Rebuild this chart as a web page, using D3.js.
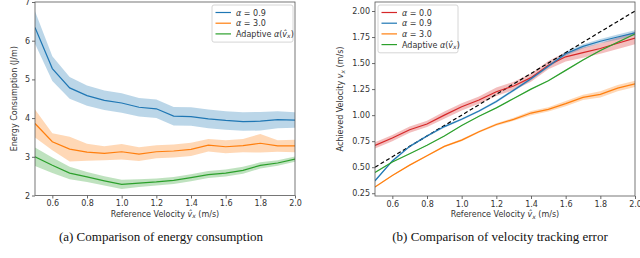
<!DOCTYPE html>
<html>
<head>
<meta charset="utf-8">
<script src="https://cdnjs.cloudflare.com/ajax/libs/d3/7.8.5/d3.min.js"></script>
<style>
  body { margin: 0; background: #fff; }
  svg { display: block; }
  .tick text { font-family: "DejaVu Sans", sans-serif; font-size: 8px; fill: #333; }
  .lbl { font-family: "DejaVu Sans", sans-serif; font-size: 8px; fill: #333; }
  .cap { font-family: "Liberation Serif", serif; font-size: 13px; fill: #111; }
</style>
</head>
<body>
<svg id="fig" width="640" height="258"></svg>
<script>
'use strict';

// Datos compartidos
var velocidad = [0.5, 0.6, 0.7, 0.8, 0.9, 1.0, 1.1, 1.2, 1.3, 1.4, 1.5, 1.6, 1.7, 1.8, 1.9, 2.0];

// (a) energía
var energia09 = [6.34, 5.28, 4.78, 4.58, 4.46, 4.39, 4.28, 4.24, 4.05, 4.04, 3.98, 3.94, 3.91, 3.92, 3.96, 3.95];
var energia09Err = [0.42, 0.32, 0.28, 0.26, 0.25, 0.25, 0.24, 0.24, 0.24, 0.24, 0.24, 0.24, 0.24, 0.24, 0.22, 0.2];
var energia30 = [3.86, 3.39, 3.2, 3.12, 3.09, 3.13, 3.07, 3.13, 3.15, 3.19, 3.3, 3.26, 3.29, 3.35, 3.28, 3.28];
var energia30Err = [0.36, 0.22, 0.32, 0.22, 0.18, 0.2, 0.18, 0.17, 0.17, 0.17, 0.16, 0.17, 0.17, 0.24, 0.15, 0.16];
var energiaAd = [3.0, 2.78, 2.58, 2.48, 2.38, 2.29, 2.32, 2.35, 2.39, 2.46, 2.54, 2.58, 2.65, 2.78, 2.84, 2.94];
var energiaAdErr = [0.24, 0.2, 0.16, 0.13, 0.12, 0.12, 0.1, 0.09, 0.09, 0.09, 0.09, 0.09, 0.09, 0.08, 0.07, 0.07];

// (b) velocidad alcanzada
var vel00 = [0.71, 0.78, 0.86, 0.915, 1.0, 1.08, 1.145, 1.225, 1.28, 1.36, 1.48, 1.56, 1.6, 1.64, 1.69, 1.74];
var vel00Err = [0.03, 0.03, 0.03, 0.03, 0.035, 0.035, 0.035, 0.04, 0.04, 0.04, 0.04, 0.045, 0.05, 0.05, 0.055, 0.06];
var vel09 = [0.37, 0.56, 0.7, 0.8, 0.89, 0.96, 1.04, 1.13, 1.24, 1.35, 1.47, 1.59, 1.66, 1.71, 1.75, 1.79];
var vel09Err = [0.01, 0.01, 0.01, 0.01, 0.01, 0.01, 0.01, 0.012, 0.012, 0.015, 0.015, 0.02, 0.02, 0.02, 0.025, 0.025];
var vel30 = [0.31, 0.42, 0.52, 0.61, 0.7, 0.76, 0.84, 0.91, 0.96, 1.02, 1.055, 1.11, 1.17, 1.2, 1.26, 1.3];
var vel30Err = [0.005, 0.005, 0.005, 0.008, 0.008, 0.01, 0.01, 0.012, 0.015, 0.02, 0.02, 0.025, 0.025, 0.03, 0.03, 0.03];
var velAd = [0.45, 0.55, 0.63, 0.71, 0.8, 0.9, 0.99, 1.07, 1.16, 1.25, 1.33, 1.43, 1.53, 1.62, 1.7, 1.78];
var velAdErr = [0.004, 0.004, 0.004, 0.004, 0.004, 0.004, 0.004, 0.004, 0.005, 0.005, 0.005, 0.005, 0.006, 0.006, 0.006, 0.006];

var xTicks = [0.6, 0.8, 1.0, 1.2, 1.4, 1.6, 1.8, 2.0];
var yTicksA = [2, 3, 4, 5, 6, 7];
var yTicksB = [0.25, 0.5, 0.75, 1.0, 1.25, 1.5, 1.75, 2.0];

var azul = '#1f77b4', naranja = '#ff7f0e', verde = '#2ca02c', rojo = '#d62728';

var svg = d3.select('#fig');

// Dibuja un panel completo
function panel(opts) {
  var g = svg.append('g');
  var x = d3.scaleLinear().domain([0.5, 2.0]).range([opts.left, opts.right]);
  var y = d3.scaleLinear().domain(opts.yDom).range([opts.bottom, opts.top]);

  var area = d3.area()
    .x(function(d, i) { return x(velocidad[i]); })
    .y0(function(d) { return y(d[0] - d[1]); })
    .y1(function(d) { return y(d[0] + d[1]); });
  var linea = d3.line()
    .x(function(d, i) { return x(velocidad[i]); })
    .y(function(d) { return y(d); });

  var clip = 'clip-' + opts.id;
  g.append('clipPath').attr('id', clip).append('rect')
    .attr('x', opts.left).attr('y', opts.top)
    .attr('width', opts.right - opts.left).attr('height', opts.bottom - opts.top);
  var datos = g.append('g').attr('clip-path', 'url(#' + clip + ')');

  opts.series.forEach(function(s) {
    var pares = s.v.map(function(v, i) { return [v, s.e[i]]; });
    datos.append('path').attr('d', area(pares))
      .attr('fill', s.color).attr('fill-opacity', 0.3).attr('stroke', 'none');
  });
  if (opts.ideal) {
    datos.append('path').attr('d', linea(velocidad))
      .attr('fill', 'none').attr('stroke', '#000').attr('stroke-width', 1.2)
      .attr('stroke-dasharray', '4,2.5');
  }
  opts.series.forEach(function(s) {
    datos.append('path').attr('d', linea(s.v))
      .attr('fill', 'none').attr('stroke', s.color).attr('stroke-width', 1.2);
  });

  // Ejes
  var ax = g.append('g').attr('transform', 'translate(0,' + opts.bottom + ')')
    .call(d3.axisBottom(x).tickValues(xTicks).tickFormat(d3.format('.1f')).tickSize(3).tickPadding(2));
  var ay = g.append('g').attr('transform', 'translate(' + opts.left + ',0)')
    .call(d3.axisLeft(y).tickValues(opts.yTicks).tickFormat(d3.format(opts.yFmt)).tickSize(3).tickPadding(2));
  [ax, ay].forEach(function(a) {
    a.select('.domain').remove();
    a.selectAll('.tick line').attr('stroke', '#444').attr('stroke-width', 0.8);
  });
  g.append('rect').attr('x', opts.left).attr('y', opts.top)
    .attr('width', opts.right - opts.left).attr('height', opts.bottom - opts.top)
    .attr('fill', 'none').attr('stroke', '#555').attr('stroke-width', 0.8);

  // Etiquetas
  var cx = (opts.left + opts.right) / 2;
  var xl = g.append('text').attr('class', 'lbl').attr('x', cx).attr('y', opts.bottom + 21)
    .attr('text-anchor', 'middle');
  xl.append('tspan').text('Reference Velocity ');
  xl.append('tspan').attr('font-style', 'italic').text('v\u0302');
  xl.append('tspan').attr('font-style', 'italic').attr('font-size', '6px').attr('dy', 1.5).text('x');
  xl.append('tspan').attr('dy', -1.5).text(' (m/s)');

  var cy = (opts.top + opts.bottom) / 2;
  var yl = g.append('text').attr('class', 'lbl')
    .attr('transform', 'translate(' + opts.yLabelX + ',' + cy + ') rotate(-90)')
    .attr('text-anchor', 'middle');
  opts.yLabel(yl);

  g.append('text').attr('class', 'cap').attr('x', opts.capX).attr('y', 241)
    .attr('text-anchor', 'middle').text(opts.caption);

  // Leyenda
  var L = opts.legend;
  var leg = g.append('g');
  leg.append('rect').attr('x', L.x).attr('y', L.y).attr('width', L.w)
    .attr('height', opts.series.length * 10.7 + 5).attr('rx', 2)
    .attr('fill', '#fff').attr('fill-opacity', 0.85).attr('stroke', '#ccc').attr('stroke-width', 0.8);
  opts.series.forEach(function(s, i) {
    var yy = L.y + 7.5 + i * 10.7;
    leg.append('line').attr('x1', L.x + 3.5).attr('x2', L.x + 19)
      .attr('y1', yy).attr('y2', yy).attr('stroke', s.color).attr('stroke-width', 1.2);
    var t = leg.append('text').attr('class', 'lbl').attr('x', L.x + 24).attr('y', yy + 3);
    etiquetaSerie(t, s.alpha);
  });
}

function etiquetaSerie(t, alpha) {
  if (alpha === null) {
    t.append('tspan').text('Adaptive ');
    t.append('tspan').attr('font-style', 'italic').text('\u03b1');
    t.append('tspan').text('(');
    t.append('tspan').attr('font-style', 'italic').text('v\u0302');
    t.append('tspan').attr('font-style', 'italic').attr('font-size', '6px').attr('dy', 1.5).text('x');
    t.append('tspan').attr('dy', -1.5).text(')');
  } else {
    t.append('tspan').attr('font-style', 'italic').text('\u03b1');
    t.append('tspan').text(' = ' + alpha);
  }
}

panel({
  id: 'a', left: 35, right: 295, top: 2, bottom: 195.5,
  yDom: [2, 7], yTicks: yTicksA, yFmt: 'd', yLabelX: 17, capX: 161,
  caption: '(a) Comparison of energy consumption',
  yLabel: function(t) { t.text('Energy Consumption (J/m)'); },
  legend: { x: 212, y: 5, w: 81 },
  series: [
    { v: energia09, e: energia09Err, color: azul, alpha: '0.9' },
    { v: energia30, e: energia30Err, color: naranja, alpha: '3.0' },
    { v: energiaAd, e: energiaAdErr, color: verde, alpha: null }
  ]
});

panel({
  id: 'b', left: 375, right: 635, top: 2, bottom: 196,
  yDom: [0.2235, 2.0865], yTicks: yTicksB, yFmt: '.2f', yLabelX: 343, capX: 500,
  caption: '(b) Comparison of velocity tracking error', ideal: true,
  yLabel: function(t) {
    t.append('tspan').text('Achieved Velocity ');
    t.append('tspan').attr('font-style', 'italic').text('v');
    t.append('tspan').attr('font-style', 'italic').attr('font-size', '6px').attr('dy', 1.5).text('x');
    t.append('tspan').attr('dy', -1.5).text(' (m/s)');
  },
  legend: { x: 378, y: 5, w: 80 },
  series: [
    { v: vel00, e: vel00Err, color: rojo, alpha: '0.0' },
    { v: vel09, e: vel09Err, color: azul, alpha: '0.9' },
    { v: vel30, e: vel30Err, color: naranja, alpha: '3.0' },
    { v: velAd, e: velAdErr, color: verde, alpha: null }
  ]
});
</script>
</body>
</html>
